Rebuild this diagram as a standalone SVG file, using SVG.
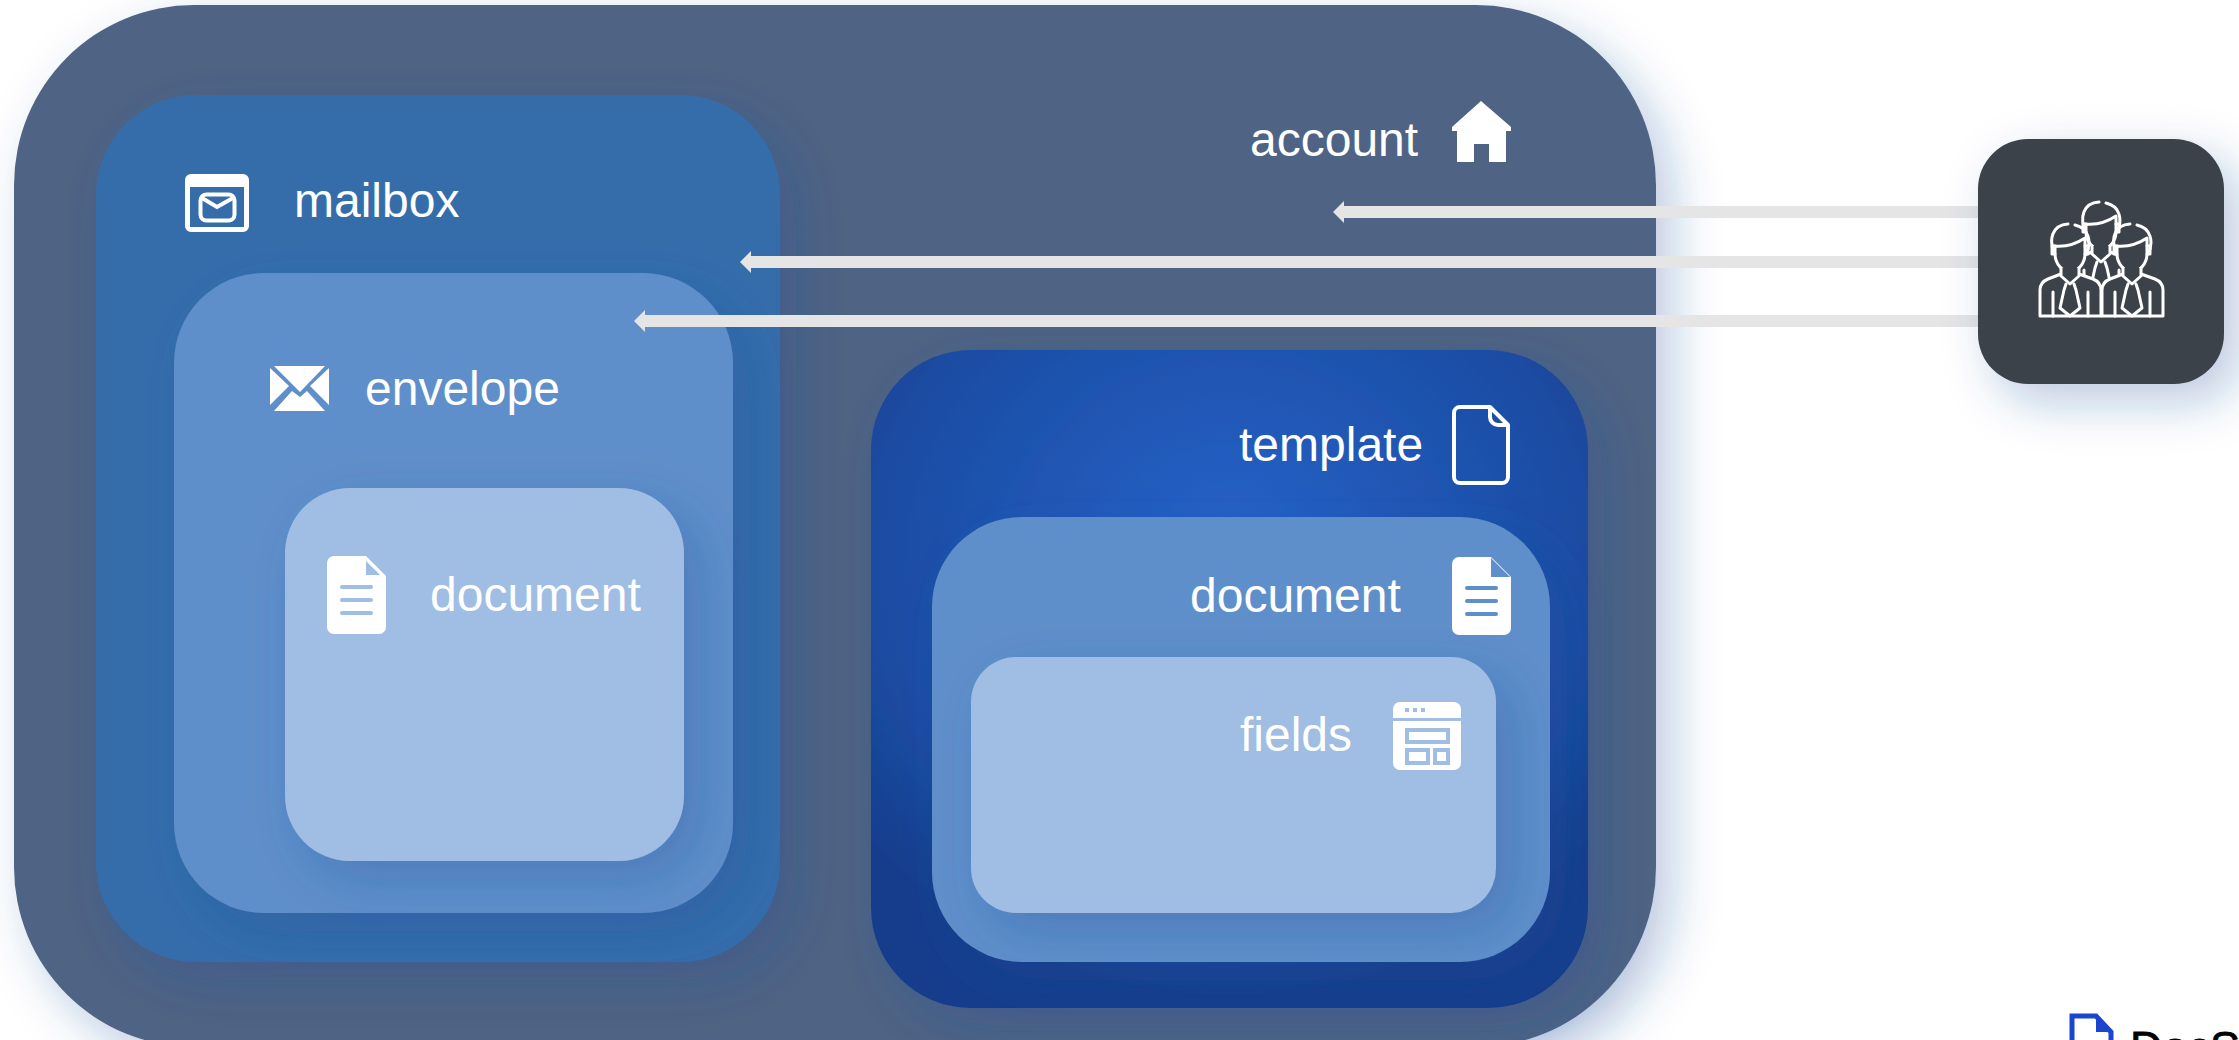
<svg xmlns="http://www.w3.org/2000/svg" width="2239" height="1040" viewBox="0 0 2239 1040">
<style>
text{font-family:"Liberation Sans",Arial,sans-serif;font-size:48px;fill:#fff}
.s{filter:url(#sh)}
.ic{fill:#fff}
.p{fill:#3b4249;stroke:#fff;stroke-width:3;stroke-linejoin:round;stroke-linecap:round}
.n{fill:none}
.c{stroke:#e5e5e5;stroke-width:12;fill:none;marker-end:url(#ah)}
.l1{fill:#5f8fca}.l2{fill:#a0bde3}
</style>
<defs>
<filter id="sh" x="-40%" y="-40%" width="180%" height="180%"><feDropShadow dx="16" dy="18" stdDeviation="24" flood-color="#1f4e9a" flood-opacity=".3"/></filter>
<radialGradient id="tg" cx="50%" cy="32%" r="66%"><stop offset="0" stop-color="#2763c9"/><stop offset=".75" stop-color="#1b4ca3"/><stop offset="1" stop-color="#163e8c"/></radialGradient>
<marker id="ah" markerUnits="userSpaceOnUse" markerWidth="13" markerHeight="24" refX="0" refY="12" orient="auto"><path d="M0 1L11 12L0 23Z" fill="#e5e5e5"/></marker>
<g id="doc"><path d="M7 0H39L59 20V71a7 7 0 0 1-7 7H7a7 7 0 0 1-7-7V7a7 7 0 0 1 7-7Z" class="ic"/></g>
<g id="person" class="p">
<path d="M2040 316V290C2040 285 2043 281 2048 279L2061 274H2079L2093 279C2098 281 2101 285 2101 290V316Z"/>
<path class="n" d="M2055 254C2048 240 2052 225 2068 224M2075 225C2089 228 2092 242 2086 254"/>
<path d="M2055 246C2066 247 2076 244 2085 238V254C2085 264 2077 272 2070 272C2063 272 2055 264 2055 254Z"/>
<path class="n" d="M2055 246h-3v8h3M2085 246h3v8h-3"/>
<path d="M2061 268V276L2070 284L2079 276V268"/>
<path class="n" d="M2053 316V292M2088 316V292M2066 284L2064 290L2060 308L2070 316L2080 308L2076 290L2074 284"/>
</g>
</defs>

<g id="account"><rect class="s" x="14" y="5" width="1642" height="1042" rx="180" fill="#506484"/>
<text x="1250" y="156">account</text>
<path class="ic" d="M1481 101L1511 127V131H1506V162H1489V144H1474V162H1457V131H1452V127Z"/></g>

<g id="mailbox"><rect class="s" x="96" y="95" width="684" height="867" rx="100" fill="#366dab"/>
<text x="294" y="217">mailbox</text>
<path class="ic" fill-rule="evenodd" d="M191 174H243a6 6 0 0 1 6 6V226a6 6 0 0 1-6 6H191a6 6 0 0 1-6-6V180a6 6 0 0 1 6-6ZM190 187V227H244V187Z"/>
<rect x="200.500" y="194.500" width="34" height="26" rx="6" fill="none" stroke="#fff" stroke-width="4"/>
<path d="M202 198L217 207L233 198" fill="none" stroke="#fff" stroke-width="4"/></g>

<g id="envelope"><rect class="s l1" x="174" y="273" width="559" height="640" rx="90"/>
<text x="365" y="405">envelope</text>
<path class="ic" d="M274 366H325L300 392ZM270 368V405L289 386ZM329 368V405L310 386ZM274 411H325L307 391L300 397L292 391Z"/></g>

<g id="document-1"><rect class="s l2" x="285" y="488" width="399" height="373" rx="65"/>
<text x="430" y="611">document</text>
<use href="#doc" x="327" y="556"/>
<path class="l2" d="M366 561V575H380Z"/>
<path d="M342 587H371M342 600H371M342 613H371" stroke="#a0bde3" stroke-width="4" stroke-linecap="round"/></g>

<g id="template"><rect class="s" x="871" y="350" width="717" height="658" rx="100" fill="url(#tg)"/>
<text x="1239" y="461">template</text>
<path d="M1490 407H1460a6 6 0 0 0-6 6V477a6 6 0 0 0 6 6H1502a6 6 0 0 0 6-6V425L1490 407ZM1490 407V417a8 8 0 0 0 8 8H1508" fill="none" stroke="#fff" stroke-width="4" stroke-linejoin="round"/></g>

<g id="document-2"><rect class="s l1" x="932" y="517" width="618" height="445" rx="90"/>
<text x="1190" y="612">document</text>
<use href="#doc" x="1452" y="557"/>
<path class="l1" d="M1491 558V577H1510Z"/>
<path d="M1467 588H1496M1467 601H1496M1467 614H1496" stroke="#5f8fca" stroke-width="4" stroke-linecap="round"/></g>

<g id="fields"><rect class="s l2" x="971" y="657" width="525" height="256" rx="45"/>
<text x="1240" y="751">fields</text>
<rect class="ic" x="1393" y="702" width="68" height="68" rx="7"/>
<path d="M1393 719.500H1461" stroke="#a0bde3" stroke-width="3"/>
<g fill="#a0bde3"><rect x="1405" y="708" width="4" height="4"/><rect x="1413" y="708" width="4" height="4"/><rect x="1421" y="708" width="4" height="4"/></g>
<g fill="none" stroke="#a0bde3" stroke-width="4"><rect x="1407" y="730" width="41" height="12"/><rect x="1407" y="750" width="21" height="13"/><rect x="1435" y="750" width="13" height="13"/></g></g>

<g id="connectors">
<path class="c" d="M1978 212H1344"/>
<path class="c" d="M1978 262H751"/>
<path class="c" d="M1978 321H645"/>
</g>

<g id="users"><rect class="s" x="1978" y="139" width="246" height="245" rx="50" fill="#3b4249"/>
<use href="#person" x="31" y="-22"/>
<use href="#person"/>
<use href="#person" x="62"/>
</g>

<g id="logo">
<path d="M2072 1016H2096L2111 1032V1050H2072Z" fill="none" stroke="#1a45cf" stroke-width="5"/>
<path d="M2096 1016L2111 1032H2096Z" fill="#1a45cf"/>
<text x="2130" y="1063" style="font-size:45px;fill:#000;stroke:#000;stroke-width:.8">DocS</text>
</g>
</svg>
